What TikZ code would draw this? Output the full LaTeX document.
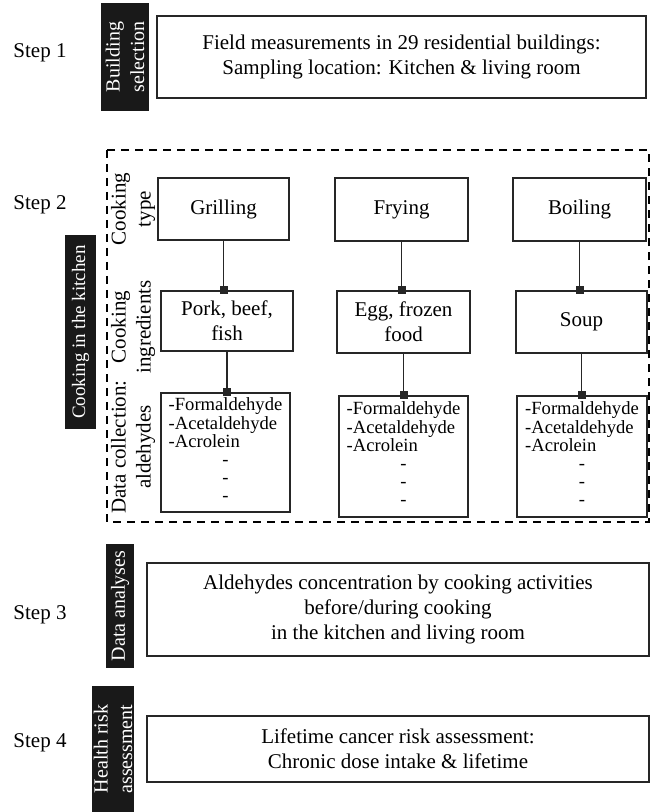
\documentclass[tikz,border=0pt]{standalone}
\usepackage{fontspec}
\setmainfont{Liberation Serif}
\usetikzlibrary{arrows.meta}
\newcommand{\listaald}{{\fontsize{9.3}{12}\selectfont\renewcommand{\arraystretch}{0.75}%
  \begin{tabular}{@{}l@{}}
  -Formaldehyde\\ -Acetaldehyde\\ -Acrolein\\
  \multicolumn{1}{@{}c@{}}{-}\\ \multicolumn{1}{@{}c@{}}{-}\\ \multicolumn{1}{@{}c@{}}{-}
  \end{tabular}}}
\begin{document}
\begin{tikzpicture}[x=0.5pt, y=-0.5pt, font=\fontsize{10.5}{12.5}\selectfont,
    caja/.style={draw=black!85, line width=0.6pt, inner sep=1pt, align=center},
    etiqueta/.style={rotate=90, align=center, inner sep=0pt},
    negra/.style={rotate=90, align=center, fill=black!90, text=white, inner sep=1pt,
      font=\fontsize{10}{12.2}\selectfont},
    union/.style={draw=black!85, line width=0.6pt, -{Square[length=4pt,width=4pt]}, shorten >=-2pt}]
  \useasboundingbox (0,0) rectangle (650,812);
  % Paso 1
  \node (paso1) at (40,53) {Step 1};
  \node[negra, minimum width=54pt, minimum height=24pt] (seleccion) at (125,57) {Building\\selection};
  \node[caja, minimum width=244.5pt, minimum height=41pt] (medicion) at (401.5,57)
    {Field measurements in 29 residential buildings:\\Sampling location: Kitchen \& living room};
  % Paso 2
  \node (paso2) at (40,205) {Step 2};
  \draw[line width=0.6pt, dash pattern=on 4pt off 3pt] (107,150) rectangle (649,522);
  \node[negra, minimum width=97pt, minimum height=15.5pt, font=\fontsize{9.5}{12}\selectfont] (cocina) at (80.5,332) {Cooking in the kitchen};
  \node[etiqueta] (tipo) at (133,209) {Cooking\\type};
  \node[etiqueta] (ingred) at (133,327) {Cooking\\ingredients};
  \node[etiqueta] (recol) at (133,447) {Data collection:\\aldehydes};
  % Tipos de coccion
  \node[caja, minimum width=65.5pt, minimum height=31pt] (grill) at (223.5,209) {Grilling};
  \node[caja, minimum width=66.5pt, minimum height=31.5pt] (fry) at (401.5,209.5) {Frying};
  \node[caja, minimum width=66.5pt, minimum height=31.5pt] (boil) at (579.5,209.5) {Boiling};
  % Ingredientes
  \node[caja, minimum width=66pt, minimum height=30pt] (pork) at (227,321) {Pork, beef,\\fish};
  \node[caja, minimum width=66.5pt, minimum height=31pt] (egg) at (403.5,322) {Egg, frozen\\food};
  \node[caja, minimum width=65.5pt, minimum height=31pt] (soup) at (581.5,322) {Soup};
  % Aldehidos
  \node[caja, minimum width=64.5pt, minimum height=59.5pt] (ald1) at (225.5,452.5) {\listaald};
  \node[caja, minimum width=64.5pt, minimum height=60.5pt] (ald2) at (403.5,456.5) {\listaald};
  \node[caja, minimum width=65pt, minimum height=60.5pt] (ald3) at (582,456.5) {\listaald};
  % Uniones
  \foreach \a/\b in {grill/pork, fry/egg, boil/soup, pork/ald1, egg/ald2, soup/ald3}
    \draw[union] (\a.south) -- (\a.south |- \b.north);
  % Paso 3
  \node (paso3) at (40,615) {Step 3};
  \node[negra, minimum width=62pt, minimum height=14pt] (analisis) at (120,606) {Data analyses};
  \node[caja, minimum width=251pt, minimum height=46.5pt] (concen) at (398,609.5)
    {Aldehydes concentration by cooking activities\\before/during cooking\\in the kitchen and living room};
  % Paso 4
  \node (paso4) at (40,743) {Step 4};
  \node[negra, minimum width=63pt, minimum height=21pt] (riesgo) at (113,749) {Health risk\\assessment};
  \node[caja, minimum width=251pt, minimum height=33pt] (cancer) at (398,749)
    {Lifetime cancer risk assessment:\\Chronic dose intake \& lifetime};
\end{tikzpicture}
\end{document}
